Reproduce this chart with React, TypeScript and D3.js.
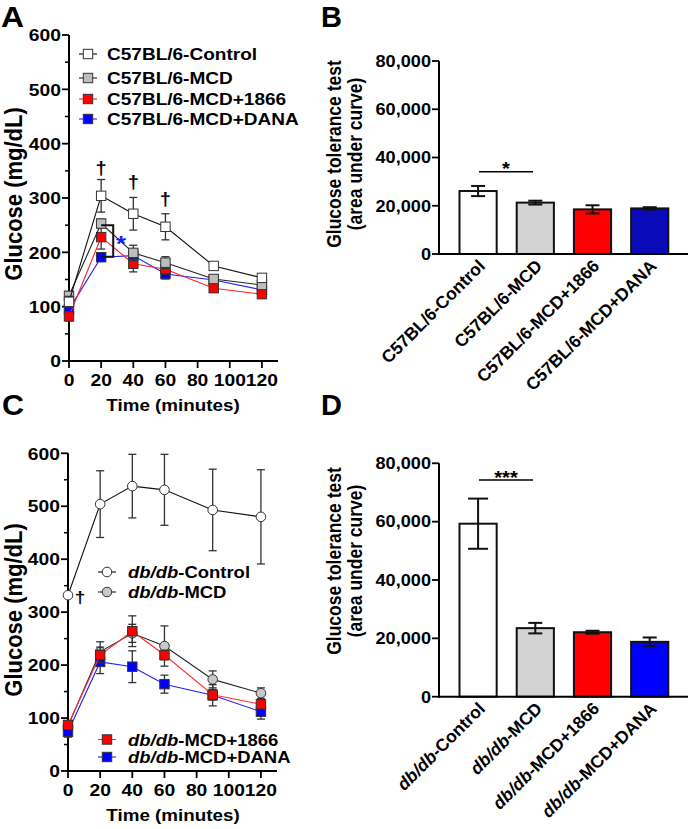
import React from "react";
import * as d3 from "d3";

const FONT = "'Liberation Sans', Arial, Helvetica, sans-serif";
const SX = 1.12;

// ---------- data ----------
const timePoints = [0, 20, 40, 60, 90, 120];
const xTicks = [0, 20, 40, 60, 80, 100, 120];
const glucoseTicks = [0, 100, 200, 300, 400, 500, 600];
const glucoseMinor = [50, 150, 250, 350, 450, 550];
const aucTicks = [0, 20000, 40000, 60000, 80000];

const c57Labels = ["C57BL/6-Control", "C57BL/6-MCD", "C57BL/6-MCD+1866", "C57BL/6-MCD+DANA"];
const dbPrefix = "db/db";
const dbSuffix = ["-Control", "-MCD", "-MCD+1866", "-MCD+DANA"];

// Panel A (C57BL/6)
const aControl = [109, 304, 271, 247, 175, 153];
const aControlErr = [10, 30, 30, 24, 6, 6];
const aMCD = [120, 253, 199, 181, 151, 140];
const aMCDErr = [8, 8, 14, 11, 6, 6];
const a1866 = [82, 228, 179, 169, 134, 123];
const a1866Err = [8, 22, 15, 9, 7, 7];
const aDANA = [95, 191, 194, 160, 149, 131];
const aDANAErr = [8, 6, 8, 9, 6, 6];

// Panel C (db/db)
const cControl = [332, 504, 538, 531, 493, 480];
const cControlErr = [3, 63, 60, 67, 77, 89];
const cMCD = [85, 225, 260, 236, 173, 147];
const cMCDErr = [10, 19, 17, 38, 16, 10];
const c1866 = [87, 219, 264, 219, 144, 126];
const c1866Err = [8, 15, 29, 9, 10, 8];
const cDANA = [74, 206, 197, 164, 143, 112];
const cDANAErr = [10, 22, 30, 17, 20, 14];

// Panel B / D (AUC)
const bAUC = [26100, 21300, 18500, 18900];
const bAUCErr = [2100, 800, 1700, 500];
const dAUC = [59300, 23500, 22100, 18800];
const dAUCErr = [8600, 1800, 500, 1500];

// ---------- helpers ----------
function T({ x, y, size, children, anchor = "middle", rot = 0, weight = "bold", fill = "#000", sx = SX, dy }: any) {
  const tr = `translate(${x},${y}) scale(${sx},1)${rot ? ` rotate(${rot})` : ""}`;
  return (
    <text transform={tr} fontSize={size} textAnchor={anchor} fontWeight={weight} fill={fill} fontFamily={FONT} dy={dy}>
      {children}
    </text>
  );
}

function GlucoseAxes({ xs, ys }: any) {
  const x0 = xs(0);
  const y0 = ys(0);
  return (
    <g>
      <line x1={x0} x2={x0} y1={y0 + 1} y2={ys(600)} stroke="#000" strokeWidth={2} />
      <line x1={x0 - 1} x2={xs(130)} y1={y0} y2={y0} stroke="#000" strokeWidth={2} />
      {glucoseTicks.map((t) => (
        <g key={"y" + t}>
          <line x1={x0 - 7} x2={x0} y1={ys(t)} y2={ys(t)} stroke="#000" strokeWidth={1.8} />
          <T x={x0 - 8} y={ys(t) + 6.2} size={17.2} anchor="end">{t}</T>
        </g>
      ))}
      {glucoseMinor.map((t) => (
        <line key={"m" + t} x1={x0 - 4} x2={x0} y1={ys(t)} y2={ys(t)} stroke="#000" strokeWidth={1.5} />
      ))}
      {xTicks.map((t) => (
        <g key={"x" + t}>
          <line x1={xs(t)} x2={xs(t)} y1={y0} y2={y0 + 7} stroke="#000" strokeWidth={1.8} />
          <T x={xs(t)} y={y0 + 24.5} size={17.2}>{t}</T>
        </g>
      ))}
    </g>
  );
}

function Series({ xs, ys, s }: any) {
  const line = d3
    .line<number>()
    .x((_, i) => xs(timePoints[i]))
    .y((d) => ys(d));
  return (
    <g>
      {s.vals.map((v: number, i: number) => {
        const cx = xs(timePoints[i]);
        const e = s.err[i];
        return (
          <g key={"e" + i} stroke="#333" strokeWidth={1.3}>
            <line x1={cx} x2={cx} y1={ys(v - e)} y2={ys(v + e)} />
            <line x1={cx - 4} x2={cx + 4} y1={ys(v + e)} y2={ys(v + e)} />
            <line x1={cx - 4} x2={cx + 4} y1={ys(v - e)} y2={ys(v - e)} />
          </g>
        );
      })}
      <path d={line(s.vals) || ""} fill="none" stroke={s.line} strokeWidth={1.1} />
      {s.vals.map((v: number, i: number) =>
        s.shape === "circle" ? (
          <circle key={"m" + i} cx={xs(timePoints[i])} cy={ys(v)} r={4.8} fill={s.fill} stroke="#333" strokeWidth={1} />
        ) : (
          <rect key={"m" + i} x={xs(timePoints[i]) - 4.7} y={ys(v) - 4.7} width={9.4} height={9.4} fill={s.fill} stroke="#333" strokeWidth={1} />
        )
      )}
    </g>
  );
}

function LegendMarker({ x, y, s }: any) {
  return (
    <g>
      <line x1={x - 9} x2={x + 9} y1={y} y2={y} stroke={s.line} strokeWidth={1.1} />
      {s.shape === "circle" ? (
        <circle cx={x} cy={y} r={4.8} fill={s.fill} stroke="#333" strokeWidth={1} />
      ) : (
        <rect x={x - 4.7} y={y - 4.7} width={9.4} height={9.4} fill={s.fill} stroke="#333" strokeWidth={1} />
      )}
    </g>
  );
}

function DbLabel({ suffix }: any) {
  return (
    <>
      <tspan fontStyle="italic">{dbPrefix}</tspan>
      <tspan>{suffix}</tspan>
    </>
  );
}

function AucPanel({ ys, vals, errs, colors, labels, sig, sigY, top, titleY }: any) {
  const xb = d3.scaleBand<number>().domain([0, 1, 2, 3]).range([449.2, 678.6]).paddingInner(0.35).paddingOuter(0.18);
  const y0 = ys(0);
  const fmt = d3.format(",");
  return (
    <g>
      {vals.map((v: number, i: number) => {
        const bx = xb(i)!;
        const bw = xb.bandwidth();
        const cx = bx + bw / 2;
        const e = errs[i];
        const cw = i === 0 && top > 300 ? 10 : 7;
        return (
          <g key={i}>
            <rect x={bx} y={ys(v)} width={bw} height={y0 - ys(v)} fill={colors[i]} stroke="#111" strokeWidth={2} />
            <g stroke="#111" strokeWidth={2}>
              <line x1={cx} x2={cx} y1={ys(v - e)} y2={ys(v + e)} />
              <line x1={cx - cw} x2={cx + cw} y1={ys(v + e)} y2={ys(v + e)} />
              <line x1={cx - cw} x2={cx + cw} y1={ys(v - e)} y2={ys(v - e)} />
            </g>
          </g>
        );
      })}
      <line x1={439} x2={439} y1={y0 + 1} y2={ys(80000)} stroke="#000" strokeWidth={2} />
      <line x1={438} x2={688} y1={y0} y2={y0} stroke="#000" strokeWidth={2} />
      {aucTicks.map((t) => (
        <g key={t}>
          <line x1={432} x2={439} y1={ys(t)} y2={ys(t)} stroke="#000" strokeWidth={1.8} />
          <T x={431} y={ys(t) + 5.8} size={16.2} anchor="end">{t === 0 ? "0" : fmt(t)}</T>
        </g>
      ))}
      {labels.map((lab: any, i: number) => {
        const cx = xb(i)! + xb.bandwidth() / 2;
        return (
          <text
            key={"l" + i}
            transform={`translate(${cx + 8},${y0 + 13}) rotate(-45)`}
            fontSize={17.5}
            fontWeight="bold"
            textAnchor="end"
            fontFamily={FONT}
          >
            {lab}
          </text>
        );
      })}
      <line x1={479} x2={533} y1={sigY} y2={sigY} stroke="#000" strokeWidth={1.6} />
      <T x={506} y={sigY + 3.5} size={18}>{sig}</T>
      <T x={334} y={titleY} size={17.5} rot={-90} dy="0.35em">Glucose tolerance test</T>
      <T x={355} y={titleY} size={17.5} rot={-90} dy="0.35em">(area under curve)</T>
    </g>
  );
}

export default function App() {
  const xA = d3.scaleLinear().domain([0, 130]).range([69, 278]);
  const yA = d3.scaleLinear().domain([0, 600]).range([361, 35]);
  const xC = d3.scaleLinear().domain([0, 130]).range([68, 277]);
  const yC = d3.scaleLinear().domain([0, 600]).range([771, 453.3]);
  const yB = d3.scaleLinear().domain([0, 80000]).range([254, 61]);
  const yD = d3.scaleLinear().domain([0, 80000]).range([696.7, 463.3]);

  const sA = {
    control: { vals: aControl, err: aControlErr, line: "#111", fill: "#fff", shape: "square" },
    mcd: { vals: aMCD, err: aMCDErr, line: "#222", fill: "#bdbdbd", shape: "square" },
    r1866: { vals: a1866, err: a1866Err, line: "#ff2020", fill: "#ff0000", shape: "square" },
    dana: { vals: aDANA, err: aDANAErr, line: "#2020ff", fill: "#0000ff", shape: "square" },
  };
  const sC = {
    control: { vals: cControl, err: cControlErr, line: "#111", fill: "#fff", shape: "circle" },
    mcd: { vals: cMCD, err: cMCDErr, line: "#222", fill: "#c8c8c8", shape: "circle" },
    r1866: { vals: c1866, err: c1866Err, line: "#ff3030", fill: "#ff0000", shape: "square" },
    dana: { vals: cDANA, err: cDANAErr, line: "#2020ff", fill: "#0000ff", shape: "square" },
  };
  const aOrder = [sA.dana, sA.r1866, sA.mcd, sA.control];
  const cOrder = [sC.control, sC.mcd, sC.dana, sC.r1866];
  const legendA = [sA.control, sA.mcd, sA.r1866, sA.dana];
  const legendAY = [54, 78, 99, 119];

  return (
    <svg width={689} height={829} style={{ position: "absolute", left: 0, top: 0, background: "#fff" }}>
      <rect width={689} height={829} fill="#fff" />
      {/* Panel letters */}
      <T x={1} y={27} size={29} anchor="start" sx={1.1}>A</T>
      <T x={321} y={27} size={29} anchor="start" sx={1.0}>B</T>
      <T x={2} y={415} size={29} anchor="start" sx={1.05}>C</T>
      <T x={321} y={415} size={29} anchor="start" sx={1.0}>D</T>

      {/* Panel A */}
      <GlucoseAxes xs={xA} ys={yA} />
      {aOrder.map((s, i) => (
        <Series key={i} xs={xA} ys={yA} s={s} />
      ))}
      {legendA.map((s, i) => (
        <g key={"la" + i}>
          <LegendMarker x={88} y={legendAY[i]} s={s} />
          <T x={107} y={legendAY[i] + 6.2} size={17} anchor="start">{c57Labels[i]}</T>
        </g>
      ))}
      <T x={xA(20)} y={174} size={18}>†</T>
      <T x={xA(40)} y={188} size={18}>†</T>
      <T x={xA(60)} y={205} size={18}>†</T>
      <path
        d={`M${xA(20)},${yA(250)} H${xA(27.5)} V${yA(192)} H${xA(20)}`}
        fill="none"
        stroke="#111"
        strokeWidth={2}
      />
      <T x={121} y={251} size={23} fill="#1a1aff">*</T>
      <T x={13} y={194} size={22} rot={-90} dy="0.35em">Glucose (mg/dL)</T>
      <T x={173} y={411} size={16.8}>Time (minutes)</T>

      {/* Panel C */}
      <GlucoseAxes xs={xC} ys={yC} />
      {cOrder.map((s, i) => (
        <Series key={i} xs={xC} ys={yC} s={s} />
      ))}
      <LegendMarker x={107} y={572} s={sC.control} />
      <T x={128} y={578} size={16.5} anchor="start"><DbLabel suffix={dbSuffix[0]} /></T>
      <LegendMarker x={107} y={592} s={sC.mcd} />
      <T x={128} y={598} size={16.5} anchor="start"><DbLabel suffix={dbSuffix[1]} /></T>
      <LegendMarker x={107} y={739.5} s={sC.r1866} />
      <T x={128} y={745.5} size={16.5} anchor="start"><DbLabel suffix={dbSuffix[2]} /></T>
      <LegendMarker x={107} y={757} s={sC.dana} />
      <T x={128} y={763} size={16.5} anchor="start"><DbLabel suffix={dbSuffix[3]} /></T>
      <T x={80} y={603} size={17}>†</T>
      <T x={13} y={610} size={22} rot={-90} dy="0.35em">Glucose (mg/dL)</T>
      <T x={173} y={821} size={16.8}>Time (minutes)</T>

      {/* Panel B */}
      <AucPanel
        ys={yB}
        vals={bAUC}
        errs={bAUCErr}
        colors={["#ffffff", "#d3d3d3", "#ff0000", "#0a0ab8"]}
        labels={c57Labels}
        sig="*"
        sigY={171.7}
        top={61}
        titleY={154}
      />
      {/* Panel D */}
      <AucPanel
        ys={yD}
        vals={dAUC}
        errs={dAUCErr}
        colors={["#ffffff", "#d3d3d3", "#ff0000", "#0000ff"]}
        labels={dbSuffix.map((s, i) => (
          <DbLabel key={i} suffix={s} />
        ))}
        sig="***"
        sigY={480}
        top={463}
        titleY={561}
      />
    </svg>
  );
}
